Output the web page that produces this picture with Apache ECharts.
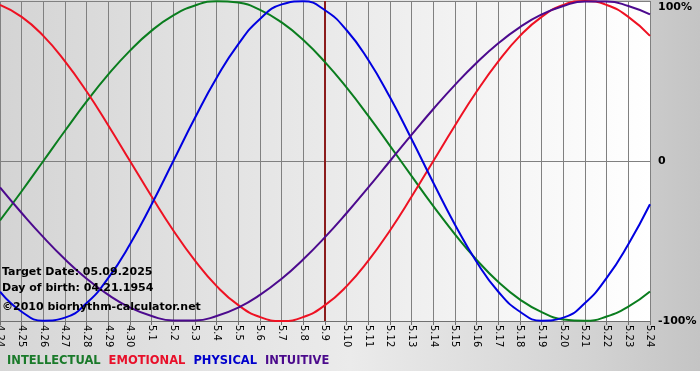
<!DOCTYPE html>
<html><head><meta charset="utf-8">
<script src="https://cdn.jsdelivr.net/npm/echarts@6/dist/echarts.min.js"></script>
<style>html,body{margin:0;padding:0;background:#fff}#c{width:700px;height:380px}</style>
</head><body><div id="c"></div>
<script>
const days = ['4.24','4.25','4.26','4.27','4.28','4.29','4.30','5.1','5.2','5.3','5.4','5.5','5.6','5.7','5.8','5.9','5.10','5.11','5.12','5.13','5.14','5.15','5.16','5.17','5.18','5.19','5.20','5.21','5.22','5.23','5.24'];
const intellectual = [-37.2,-18.9,0,18.9,37.2,54.1,69.0,81.5,91.0,97.2,99.9,99.0,94.5,86.6,75.6,61.8,45.8,28.2,9.5,-9.5,-28.2,-45.8,-61.8,-75.6,-86.6,-94.5,-99.0,-99.9,-97.2,-91.0,-81.5];
const emotional = [97.5,90.1,78.2,62.3,43.4,22.2,0,-22.2,-43.4,-62.3,-78.2,-90.1,-97.5,-100,-97.5,-90.1,-78.2,-62.3,-43.4,-22.2,0,22.2,43.4,62.3,78.2,90.1,97.5,100,97.5,90.1,78.2];
const physical = [-81.7,-94.2,-99.8,-97.9,-88.8,-73.1,-52.0,-27.0,0,27.0,52.0,73.1,88.8,97.9,99.8,94.2,81.7,63.1,39.8,13.6,-13.6,-39.8,-63.1,-81.7,-94.2,-99.8,-97.9,-88.8,-73.1,-52.0,-27.0];
const intuitive = [-16.5,-32.5,-47.6,-61.4,-73.6,-83.7,-91.6,-96.9,-99.7,-99.7,-96.9,-91.6,-83.7,-73.6,-61.4,-47.6,-32.5,-16.5,0,16.5,32.5,47.6,61.4,73.6,83.7,91.6,96.9,99.7,99.7,96.9,91.6];
const targetDay = '5.9';
const yTickLabels = {'-100':'-100%','0':'0','100':'100%'};
const seriesNames = ['INTELLECTUAL','EMOTIONAL','PHYSICAL','INTUITIVE'];
const infoLines = ['Target Date: 05.09.2025','Day of birth: 04.21.1954','\u00a92010 biorhythm-calculator.net'];

const FONT = 'DejaVu Sans';
const colors = ['#0a7d1e','#ee1122','#0000e0','#4c0a8e'];
const legendColors = ['#1a7a2a','#e8102a','#0000cc','#4b0a8c'];
const seriesData = [intellectual, emotional, physical, intuitive];

const chart = echarts.init(document.getElementById('c'), null, {renderer:'canvas'});
const option = {
  animation: false,
  backgroundColor: 'transparent',
  graphic: [
    {type:'rect', z:-100, shape:{x:0,y:0,width:700,height:371},
     style:{fill:new echarts.graphic.LinearGradient(0,0,1,0,[{offset:0,color:'#d6d6d6'},{offset:0.5,color:'#ebebeb'},{offset:0.85,color:'#d2d2d2'},{offset:1,color:'#c4c4c4'}])}},
    {type:'rect', z:-100, shape:{x:0,y:371,width:700,height:9}, style:{fill:'#ffffff'}},
    {type:'text', left:2, top:267, z:50, style:{text:infoLines[0], font:'bold 11px "'+FONT+'"', fill:'#000'}},
    {type:'text', left:2, top:283, z:50, style:{text:infoLines[1], font:'bold 11px "'+FONT+'"', fill:'#000'}},
    {type:'text', left:2, top:302, z:50, style:{text:infoLines[2], font:'bold 11px "'+FONT+'"', fill:'#000'}}
  ],
  grid: {left:0, top:1, width:650, height:320, show:true, borderWidth:0, outerBoundsMode:'none', containLabel:false,
    backgroundColor: new echarts.graphic.LinearGradient(0,0,1,0,[{offset:0,color:'#d4d4d4'},{offset:1,color:'#ffffff'}])},
  legend: {
    left:2, top:355, padding:0, itemWidth:0, itemHeight:0, itemGap:3, selectedMode:false, icon:'rect',
    textStyle:{fontFamily:FONT, fontWeight:'bold', fontSize:11.5},
    data: seriesNames.map((n,i)=>({name:n, itemStyle:{opacity:0}, textStyle:{color:legendColors[i], fontFamily:FONT, fontWeight:'bold', fontSize:11.5}}))
  },
  xAxis: {
    type:'category', data:days, boundaryGap:false,
    axisLine:{show:true, onZero:false, lineStyle:{color:'#707070', width:1}},
    axisTick:{show:true, interval:0, length:4, lineStyle:{color:'#707070'}},
    axisLabel:{interval:0, rotate:-90, fontSize:10, color:'#000', fontFamily:FONT, margin:4, hideOverlap:false},
    splitLine:{show:true, interval:0, lineStyle:{color:'#808080', width:1}}
  },
  yAxis: {
    type:'value', min:-100, max:100, interval:100, position:'right',
    axisLine:{show:false}, axisTick:{show:false},
    axisLabel:{margin:8, color:'#000', fontFamily:FONT, fontWeight:'bold', fontSize:11,
      formatter:(v)=> v===100 ? '{t|'+yTickLabels[String(v)]+'}' : yTickLabels[String(v)],
      rich:{t:{padding:[12,0,0,0], fontFamily:FONT, fontWeight:'bold', fontSize:11, color:'#000'}}},
    splitLine:{show:true, lineStyle:{color:'#808080', width:1}}
  },
  series: seriesNames.map((n,i)=>({
    name:n, type:'line', data:seriesData[i], smooth:true, symbol:'none',
    lineStyle:{color:colors[i], width:2}, itemStyle:{color:colors[i]}, z: 3,
    markLine: i===0 ? {silent:true, symbol:['none','none'], label:{show:false}, z:1,
      lineStyle:{color:'#8b1c1c', width:2, type:'solid'}, data:[{xAxis:targetDay}]} : undefined
  }))
};
chart.setOption(option);
</script></body></html>
